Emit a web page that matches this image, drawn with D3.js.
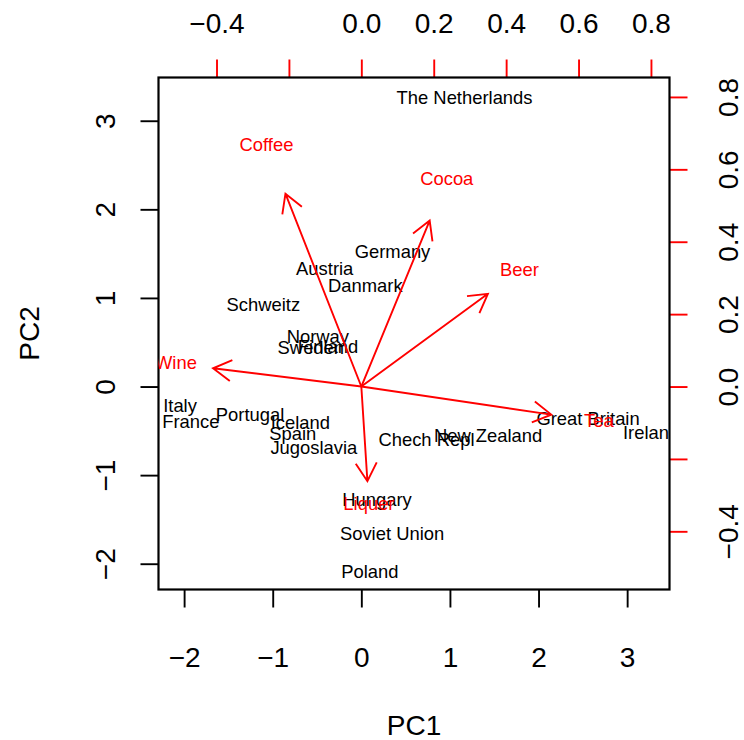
<!DOCTYPE html>
<html>
<head>
<meta charset="utf-8">
<script src="https://cdn.jsdelivr.net/npm/d3@7"></script>
<style>
  body { margin: 0; background: #fff; }
  text { font-family: "Liberation Sans", Arial, Helvetica, sans-serif; }
</style>
</head>
<body>
<div id="chart"></div>
<script>
// Country scores (PC1, PC2)
const countries = ['The Netherlands', 'Germany', 'Austria', 'Danmark', 'Schweitz', 'Norway', 'Sweden',
  'Finland', 'Italy', 'France', 'Portugal', 'Iceland', 'Spain', 'Jugoslavia', 'Chech Repl',
  'New Zealand', 'Great Britain', 'Ireland', 'Hungary', 'Soviet Union', 'Poland'];
const pc1 = [1.165, 0.352, -0.413, 0.045, -1.106, -0.491, -0.570, -0.376, -2.046, -1.924, -1.256,
  -0.688, -0.773, -0.536, 0.735, 1.431, 2.559, 3.27, 0.177, 0.347, 0.097];
const pc2 = [3.256, 1.510, 1.326, 1.126, 0.912, 0.551, 0.431, 0.446, -0.228, -0.404, -0.322,
  -0.416, -0.542, -0.701, -0.605, -0.568, -0.367, -0.529, -1.281, -1.666, -2.10];

// Variable loadings
const variables = ['Coffee', 'Cocoa', 'Beer', 'Wine', 'Tea', 'Liquer'];
const load1 = [-0.262, 0.236, 0.437, -0.512, 0.656, 0.021];
const load2 = [0.666, 0.573, 0.320, 0.063, -0.097, -0.327];

// Axis ticks
const scoreTicks = [-2, -1, 0, 1, 2, 3];
const loadTicks = [-0.4, -0.2, 0.0, 0.2, 0.4, 0.6, 0.8];
const loadTickLabels = ['\u22120.4', '', '0.0', '0.2', '0.4', '0.6', '0.8'];

const WIDTH = 744;
const HEIGHT = 740;
const BOX = { left: 158.5, right: 669.5, top: 77.5, bottom: 589.5 };
const RED = '#ff0000';

const svg = d3.select('#chart')
  .append('svg')
  .attr('width', WIDTH)
  .attr('height', HEIGHT);

// score scales and loading scales (same frame, different units)
const x = d3.scaleLinear().domain([-2.289, 3.478]).range([BOX.left, BOX.right]);
const y = d3.scaleLinear().domain([-2.291, 3.488]).range([BOX.bottom, BOX.top]);
const ratio = 4.0858;
const xr = d3.scaleLinear().domain(x.domain().map(d => d / ratio)).range(x.range());
const yr = d3.scaleLinear().domain(y.domain().map(d => d / ratio)).range(y.range());
const intFormat = d3.format('d');

svg.append('clipPath')
  .attr('id', 'plotclip')
  .append('rect')
  .attr('x', BOX.left)
  .attr('y', BOX.top)
  .attr('width', BOX.right - BOX.left)
  .attr('height', BOX.bottom - BOX.top);

function styleAxis(g, color) {
  g.select('.domain').remove();
  g.selectAll('.tick line').attr('stroke', color).attr('stroke-width', 1.9);
  g.selectAll('.tick text')
    .attr('fill', '#000')
    .style('font-size', '28px')
    .attr('dy', null);
}

// bottom axis
svg.append('g')
  .attr('transform', `translate(0,${BOX.bottom})`)
  .call(d3.axisBottom(x).tickValues(scoreTicks).tickFormat(intFormat).tickSize(18).tickSizeOuter(0))
  .call(g => styleAxis(g, '#000'))
  .call(g => g.selectAll('.tick text').attr('y', 77.5));

// left axis
svg.append('g')
  .attr('transform', `translate(${BOX.left},0)`)
  .call(d3.axisLeft(y).tickValues(scoreTicks).tickFormat(intFormat).tickSize(18).tickSizeOuter(0))
  .call(g => styleAxis(g, '#000'))
  .call(g => g.selectAll('.tick text')
    .attr('x', null)
    .attr('text-anchor', 'middle')
    .attr('transform', 'translate(-43.5,0) rotate(-90)'));

// top axis (loadings)
svg.append('g')
  .attr('transform', `translate(0,${BOX.top})`)
  .call(d3.axisTop(xr).tickValues(loadTicks).tickSize(18).tickSizeOuter(0)
    .tickFormat((d, i) => loadTickLabels[i]))
  .call(g => styleAxis(g, RED))
  .call(g => g.selectAll('.tick text').attr('y', -44.5));

// right axis (loadings)
svg.append('g')
  .attr('transform', `translate(${BOX.right},0)`)
  .call(d3.axisRight(yr).tickValues(loadTicks).tickSize(18).tickSizeOuter(0)
    .tickFormat((d, i) => loadTickLabels[i]))
  .call(g => styleAxis(g, RED))
  .call(g => g.selectAll('.tick text')
    .attr('x', null)
    .attr('text-anchor', 'middle')
    .attr('transform', 'translate(68,0) rotate(-90)'));

// box
svg.append('rect')
  .attr('x', BOX.left)
  .attr('y', BOX.top)
  .attr('width', BOX.right - BOX.left)
  .attr('height', BOX.bottom - BOX.top)
  .attr('fill', 'none')
  .attr('stroke', '#000')
  .attr('stroke-width', 2.2);

// axis titles
svg.append('text')
  .attr('x', (BOX.left + BOX.right) / 2)
  .attr('y', 735)
  .attr('text-anchor', 'middle')
  .style('font-size', '28px')
  .text('PC1');

svg.append('text')
  .attr('transform', `translate(39,${(BOX.top + BOX.bottom) / 2}) rotate(-90)`)
  .attr('text-anchor', 'middle')
  .style('font-size', '28px')
  .text('PC2');

const plot = svg.append('g').attr('clip-path', 'url(#plotclip)');
const LABEL_SIZE = 18.4;

// country labels
plot.selectAll('text.country')
  .data(countries)
  .enter()
  .append('text')
  .attr('class', 'country')
  .attr('x', (d, i) => x(pc1[i]))
  .attr('y', (d, i) => y(pc2[i]) + LABEL_SIZE * 0.3)
  .attr('text-anchor', 'middle')
  .style('font-size', LABEL_SIZE + 'px')
  .attr('fill', '#000')
  .text(d => d);

// variable labels
plot.selectAll('text.var')
  .data(variables)
  .enter()
  .append('text')
  .attr('class', 'var')
  .attr('x', (d, i) => xr(load1[i]))
  .attr('y', (d, i) => yr(load2[i]) + LABEL_SIZE * 0.3)
  .attr('text-anchor', 'middle')
  .style('font-size', LABEL_SIZE + 'px')
  .attr('fill', RED)
  .text(d => d);

// arrows to 80% of loadings, like R's biplot
const HEAD = 21;
const arrows = plot.selectAll('g.arrow')
  .data(variables)
  .enter()
  .append('g')
  .attr('class', 'arrow')
  .attr('stroke', RED)
  .attr('stroke-width', 1.9)
  .attr('fill', 'none');

arrows.append('path')
  .attr('d', (d, i) => {
    const x0 = xr(0), y0 = yr(0);
    const x1 = xr(load1[i] * 0.8), y1 = yr(load2[i] * 0.8);
    const a = Math.atan2(y1 - y0, x1 - x0);
    const p = d3.path();
    p.moveTo(x0, y0);
    p.lineTo(x1, y1);
    p.moveTo(x1 - HEAD * Math.cos(a - Math.PI / 6), y1 - HEAD * Math.sin(a - Math.PI / 6));
    p.lineTo(x1, y1);
    p.lineTo(x1 - HEAD * Math.cos(a + Math.PI / 6), y1 - HEAD * Math.sin(a + Math.PI / 6));
    return p.toString();
  });
</script>
</body>
</html>
